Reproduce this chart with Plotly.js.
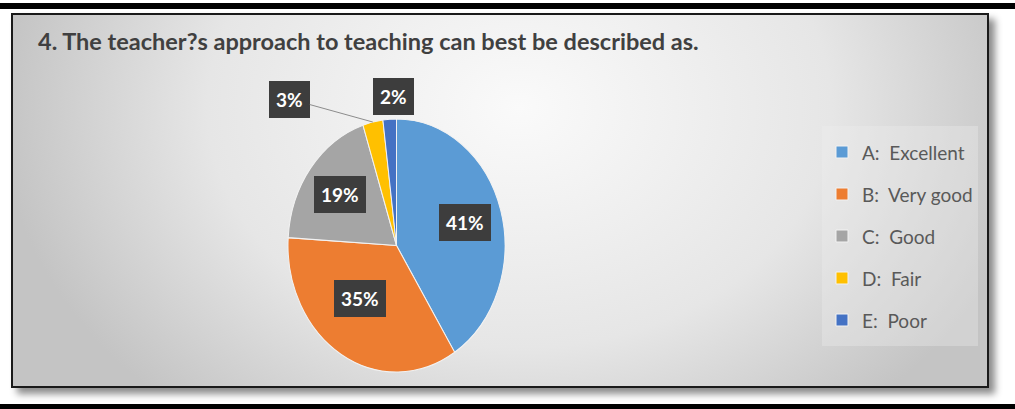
<!DOCTYPE html>
<html>
<head>
<meta charset="utf-8">
<script src="https://cdn.plot.ly/plotly-3.0.1.min.js"></script>
<style>
  html, body { margin: 0; padding: 0; background: #ffffff; width: 1015px; height: 409px; overflow: hidden; }
  #topbar { position: absolute; left: 0; top: 3px; width: 1015px; height: 6px; background: #000; }
  #botbar { position: absolute; left: 0; top: 404px; width: 1015px; height: 5px; background: #000; }
  #box {
    position: absolute; left: 11px; top: 13px; width: 974px; height: 371px;
    border: 2px solid #1a1a1a;
    background: radial-gradient(ellipse 520px 400px at 52% 25%, #fafafa 0%, #e6e6e6 60%, #c4c4c4 100%);
    box-shadow: 6px 6px 7px rgba(0,0,0,0.45);
  }
  #chart { position: absolute; left: 0; top: 0; width: 1015px; height: 409px; }
</style>
</head>
<body>
<div id="topbar"></div>
<div id="box"></div>
<div id="botbar"></div>
<div id="chart"></div>
<script>
// ---- data ----
const titleText = "4. The teacher?s approach to teaching can best be described as.";
const categories = ["A:  Excellent", "B:  Very good", "C:  Good", "D:  Fair", "E:  Poor"];
const values = [41, 35, 19, 3, 2];

// ---- styling ----
const sliceColors = ["#5B9BD5", "#ED7D31", "#A5A5A5", "#FFC000", "#4472C4"];
const W = 1015, H = 409;
const CX = 396.5, CY = 245.5, RX = 108.5, RY = 126.5;
const px = x => x / W;
const py = y => 1 - y / H;

const total = values.reduce((a, b) => a + b, 0);
let cum = 0;
const mids = values.map(v => { const m = (cum + v / 2) / total * 2 * Math.PI; cum += v; return m; });
function pt(theta, f) { return [CX + f * RX * Math.sin(theta), CY - f * RY * Math.cos(theta)]; }
const pctText = values.map(v => Math.round(v / total * 100) + "%");

const labelFont = { family: "Lato", size: 19, color: "#ffffff", weight: "bold" };
const annotations = values.map((v, i) => {
  const base = { xref: "paper", yref: "paper", text: pctText[i], font: labelFont,
                 bgcolor: "#3d3d3d", bordercolor: "#3d3d3d", borderpad: 6 };
  if (i <= 2) {
    const p = pt(mids[i], 0.66);
    return Object.assign(base, { x: px(p[0]), y: py(p[1]), showarrow: false });
  }
  if (i === 4) {
    const p = pt(mids[i], 1.33);
    return Object.assign(base, { x: px(p[0] + 6), y: py(p[1]), showarrow: false });
  }
  const p = pt(mids[i], 1.0);
  return Object.assign(base, { x: px(p[0]), y: py(p[1]), showarrow: true, arrowhead: 0,
    arrowwidth: 1, arrowcolor: "#8c8c8c", ax: -83, ay: -23, standoff: 0 });
});

const D = 2 * RX;
const trace = {
  type: "pie",
  labels: categories.map(c => '<span style="font-size:19px;baseline-shift:4px">' + c + '</span>'),
  values: values,
  sort: false,
  direction: "clockwise",
  rotation: 0,
  textinfo: "none",
  hoverinfo: "skip",
  marker: { colors: sliceColors, line: { color: "#f2f2f2", width: 1 } },
  domain: { x: [px(CX - D / 2), px(CX + D / 2)], y: [py(CY + D / 2), py(CY - D / 2)] }
};

const layout = {
  width: W, height: H,
  margin: { l: 0, r: 0, t: 0, b: 0 },
  paper_bgcolor: "rgba(0,0,0,0)",
  plot_bgcolor: "rgba(0,0,0,0)",
  title: { text: titleText, x: px(38), xanchor: "left", xref: "paper", y: py(41.5), yref: "paper", yanchor: "middle",
           font: { family: "Lato", size: 23.5, color: "#404040", weight: "bold" } },
  showlegend: true,
  legend: { x: px(822), xanchor: "left", y: py(126), yanchor: "top",
            font: { family: "Lato", size: 30, color: "#595959" },
            bgcolor: "rgba(238,238,238,0.35)", borderwidth: 0 },
  annotations: annotations
};

Plotly.newPlot("chart", [trace], layout, { staticPlot: true, displayModeBar: false }).then(() => {
  const layer = document.querySelector(".pielayer");
  if (layer) layer.setAttribute("transform",
    `translate(${CX},${CY}) scale(1,${RY / RX}) translate(${-CX},${-CY})`);
});
</script>
</body>
</html>
